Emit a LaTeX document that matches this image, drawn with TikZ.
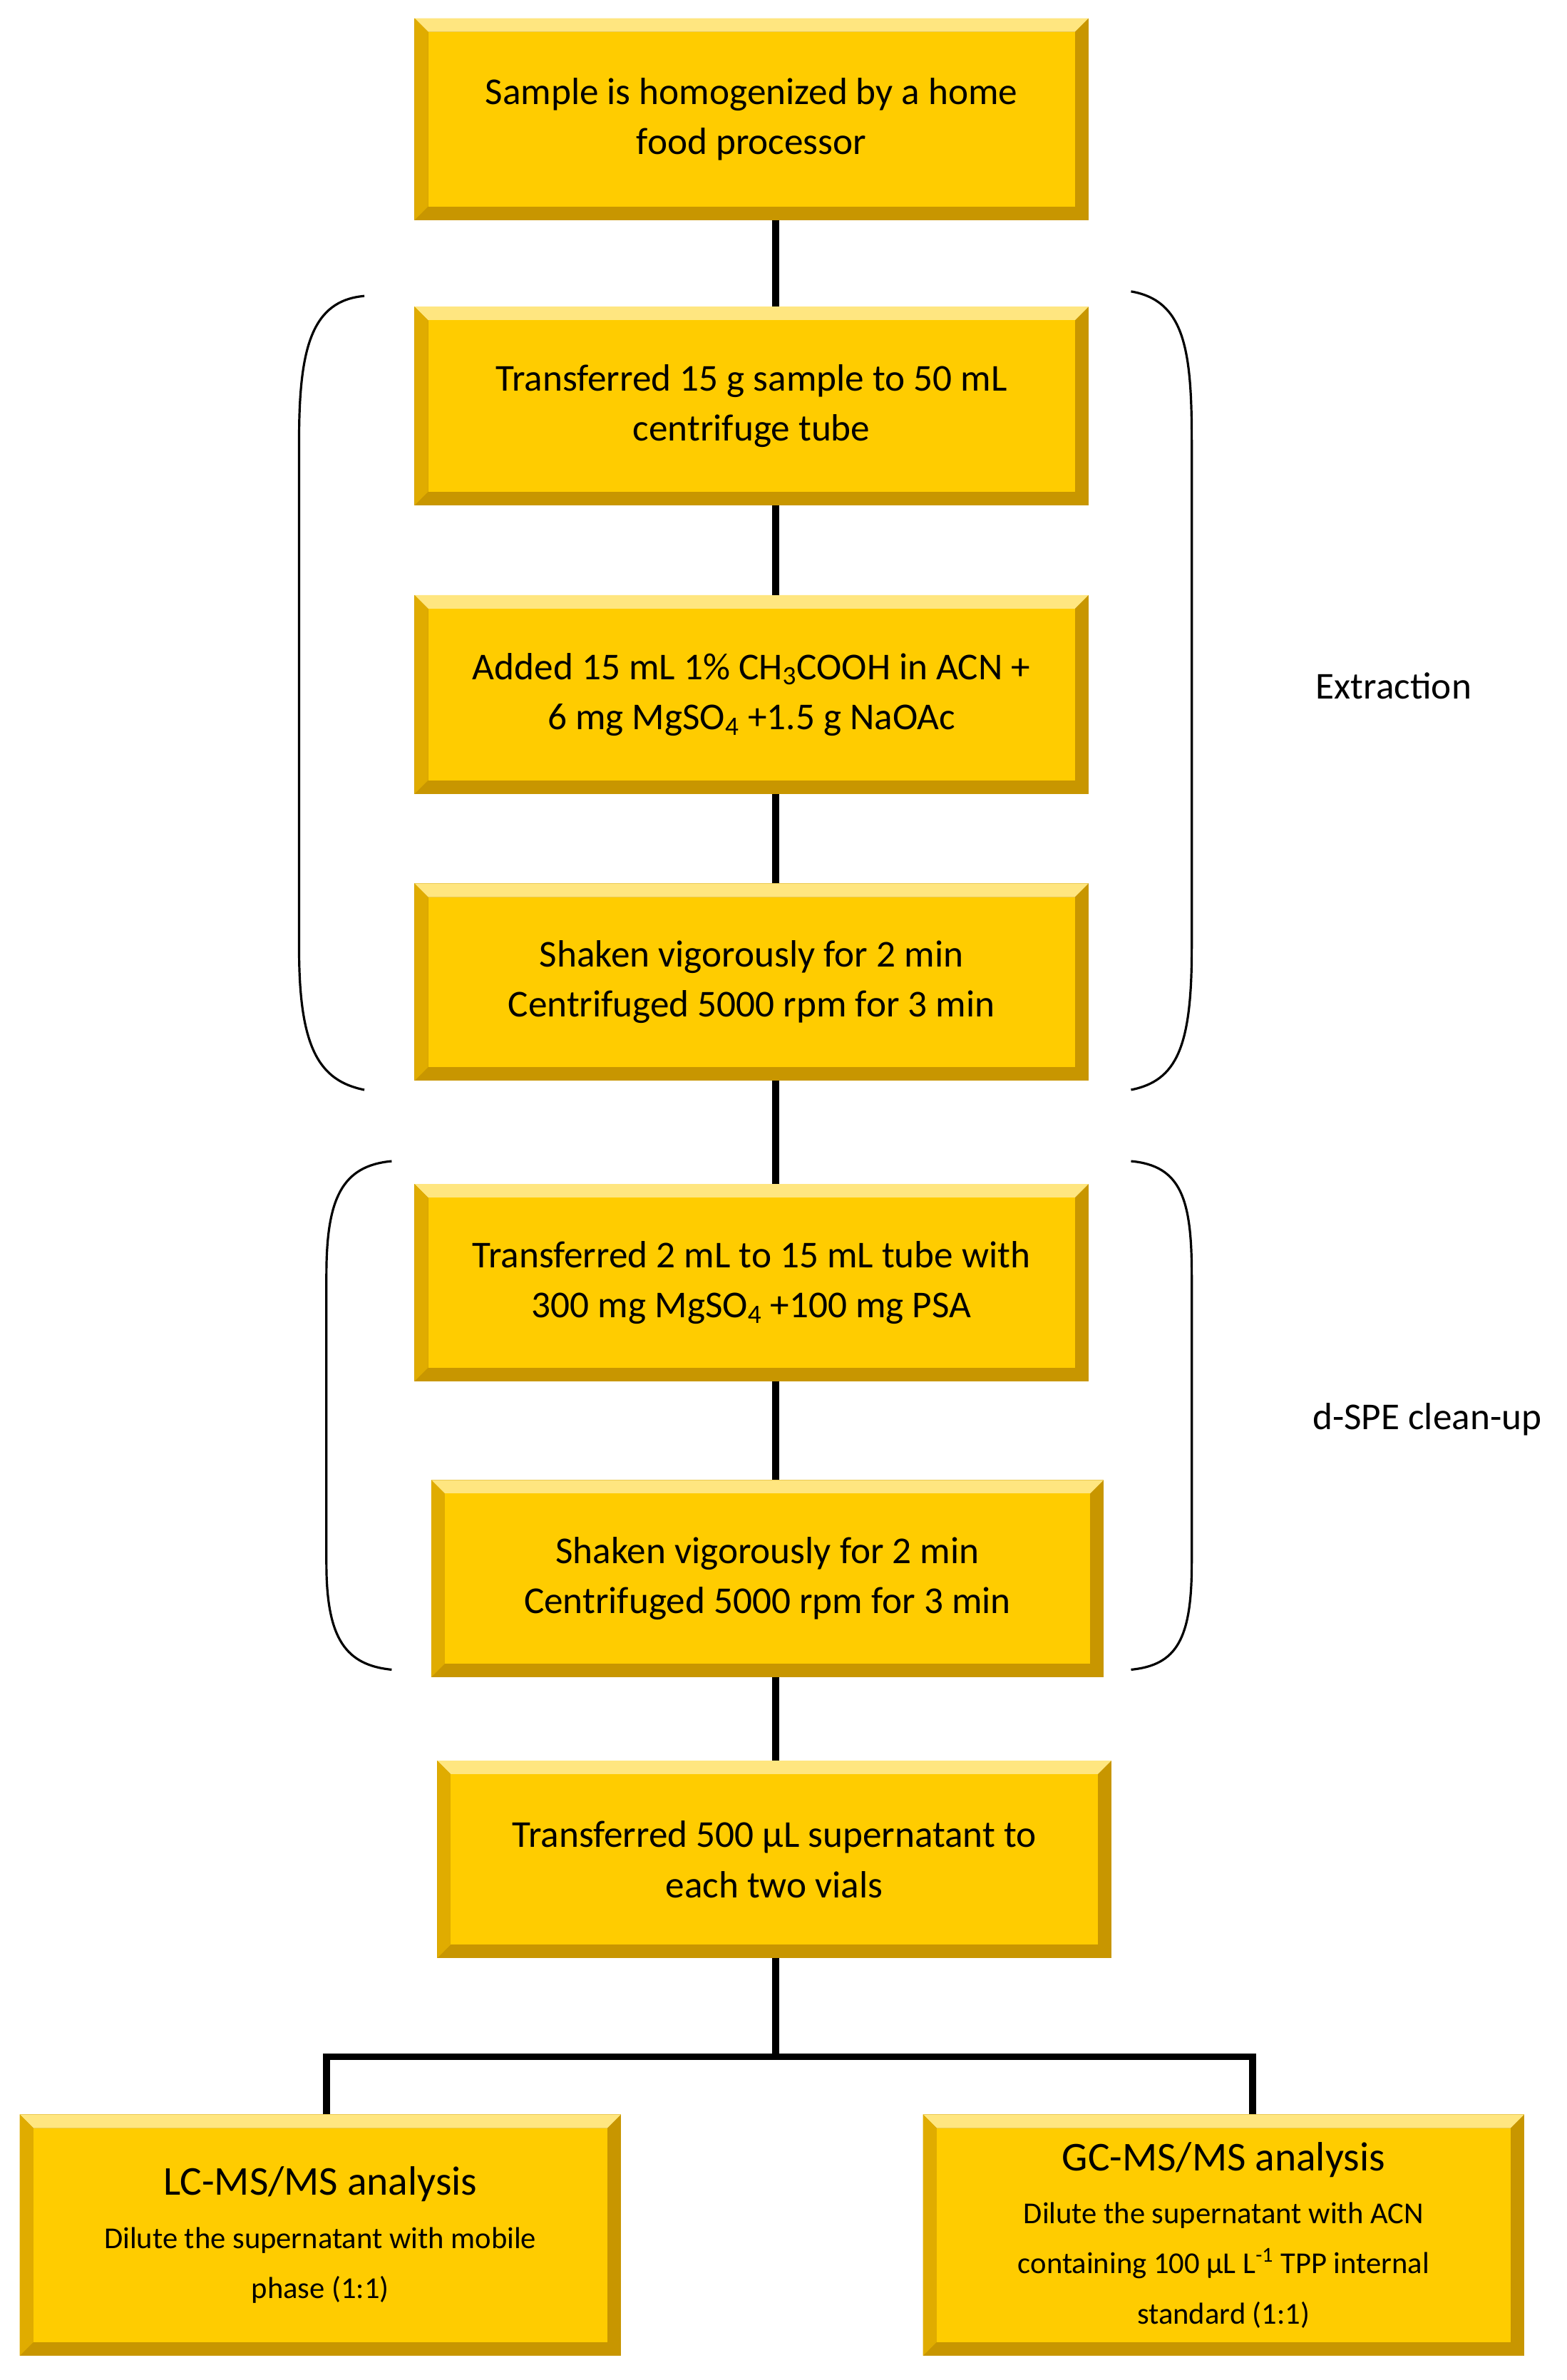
\documentclass[tikz,border=0pt]{standalone}
\usepackage{fontspec}
\setmainfont{Carlito}
\begin{document}
\begin{tikzpicture}[x=1pt,y=-1pt,
 face/.style={fill=gold,draw=none,inner sep=0pt,align=center,font=\fontsize{25}{33}\selectfont},
 conn/.style={line width=4.5pt,black},
 brace/.style={line width=1.5pt,black},
 lab/.style={font=\fontsize{25}{30}\selectfont}]
\definecolor{gold}{HTML}{FFCC00}
\definecolor{lite}{HTML}{FFE680}
\definecolor{dark}{HTML}{C89600}
\definecolor{mid}{HTML}{E0AC00}
\useasboundingbox (0,0) rectangle (1032,1568);
\newcommand{\bbox}[6]{%
 \fill[dark] (#2,#3) rectangle (#4,#5);
 \fill[lite] (#2,#3) -- (#4,#3) -- (#4-9,#3+9) -- (#2+9,#3+9) -- cycle;
 \fill[mid] (#2,#3) -- (#2+9,#3+9) -- (#2+9,#5-9) -- (#2,#5) -- cycle;
 \node[face,minimum width=#4-#2-18,minimum height=#5-#3-18] (#1) at ({(#2+#4)/2},{(#3+#5)/2}) {#6};}
\bbox{b1}{273}{12}{717}{145}{Sample is homogenized by a home\\food processor}
\bbox{b2}{273}{202}{717}{333}{Transferred 15 g sample to 50 mL\\centrifuge tube}
\bbox{b3}{273}{392}{717}{523}{Added 15 mL 1\% CH\textsubscript{3}COOH in ACN +\\6 mg MgSO\textsubscript{4} +1.5 g NaOAc}
\bbox{b4}{273}{582}{717}{712}{Shaken vigorously for 2 min\\Centrifuged 5000 rpm for 3 min}
\bbox{b5}{273}{780}{717}{910}{Transferred 2 mL to 15 mL tube with\\300 mg MgSO\textsubscript{4} +100 mg PSA}
\bbox{b6}{284}{975}{727}{1105}{Shaken vigorously for 2 min\\Centrifuged 5000 rpm for 3 min}
\bbox{b7}{288}{1160}{732}{1290}{Transferred 500 \textmu L supernatant to\\each two vials}
\bbox{b8}{13}{1393}{409}{1552}{{\fontsize{27}{30}\selectfont LC-MS/MS analysis}\\[2pt]{\fontsize{20}{25}\selectfont Dilute the supernatant with mobile}\\{\fontsize{20}{25}\selectfont phase (1:1)}}
\bbox{b9}{608}{1393}{1004}{1552}{{\fontsize{27}{30}\selectfont GC-MS/MS analysis}\\[2pt]{\fontsize{20}{25}\selectfont Dilute the supernatant with ACN}\\{\fontsize{20}{25}\selectfont containing 100 \textmu L L\textsuperscript{-1} TPP internal}\\{\fontsize{20}{25}\selectfont standard (1:1)}}
\draw[conn] (511,145) -- (511,202);
\draw[conn] (511,333) -- (511,392);
\draw[conn] (511,523) -- (511,582);
\draw[conn] (511,712) -- (511,780);
\draw[conn] (511,910) -- (511,975);
\draw[conn] (511,1105) -- (511,1160);
\coordinate (j) at (511,1355);
\draw[conn] (511,1290) -- (j);
\draw[conn] (215,1393) -- (215,1355) -- (825,1355) -- (825,1393);
% braces
\draw[brace] (240,195) .. controls (205,198) and (197,230) .. (197,290) -- (197,625) .. controls (197,690) and (210,712) .. (240,718);
\draw[brace] (745,192) .. controls (780,198) and (785,230) .. (785,290) -- (785,625) .. controls (785,690) and (775,712) .. (745,718);
\draw[brace] (258,765) .. controls (225,768) and (215,790) .. (215,840) -- (215,1030) .. controls (215,1080) and (228,1097) .. (258,1100);
\draw[brace] (745,765) .. controls (778,768) and (785,790) .. (785,840) -- (785,1030) .. controls (785,1080) and (775,1097) .. (745,1100);
\node[lab] (ex) at (918,452) {Extraction};
\node[lab] (ds) at (940,935) {d-SPE clean-up};
\end{tikzpicture}
\end{document}
